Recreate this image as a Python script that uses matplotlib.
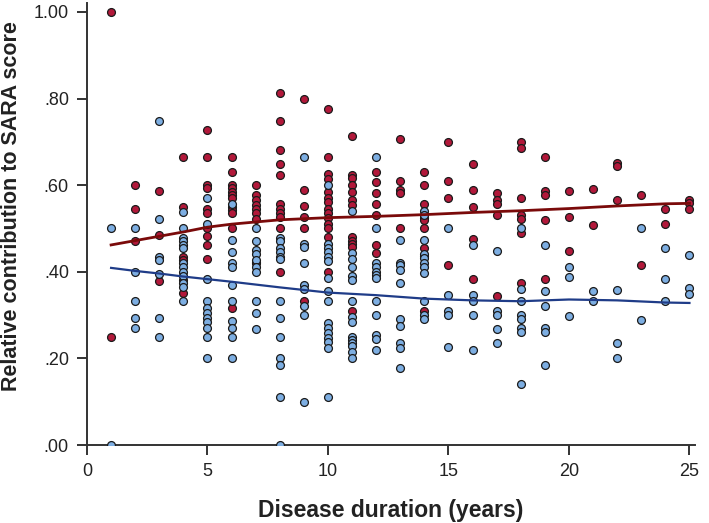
import matplotlib
matplotlib.use("Agg")
import matplotlib.pyplot as plt
import numpy as np

plt.rcParams['font.family'] = ['Liberation Sans', 'DejaVu Sans']

years = list(range(1, 26))

red_values = [
    [1.00, 0.25],
    [0.60, 0.545, 0.471],
    [0.587, 0.484, 0.379],
    [0.666, 0.549, 0.435, 0.428, 0.38, 0.352],
    [0.727, 0.666, 0.600, 0.593, 0.545, 0.535, 0.50, 0.483, 0.462, 0.43],
    [0.666, 0.631, 0.60, 0.593, 0.585, 0.578, 0.57, 0.55, 0.543, 0.535, 0.50, 0.316],
    [0.60, 0.578, 0.565, 0.555, 0.545, 0.535, 0.521, 0.423, 0.42],
    [0.814, 0.749, 0.681, 0.649, 0.624, 0.557, 0.545, 0.535, 0.527, 0.50, 0.40],
    [0.799, 0.589, 0.552, 0.527, 0.50, 0.333],
    [0.777, 0.666, 0.625, 0.615, 0.585, 0.57, 0.56, 0.545, 0.535, 0.525, 0.51, 0.50, 0.48, 0.40],
    [0.714, 0.624, 0.616, 0.60, 0.585, 0.565, 0.555, 0.48, 0.472, 0.465, 0.458, 0.31],
    [0.631, 0.607, 0.581, 0.556, 0.531, 0.462, 0.444],
    [0.706, 0.61, 0.589, 0.581, 0.50],
    [0.631, 0.60, 0.556, 0.525, 0.52, 0.50, 0.454, 0.437, 0.31],
    [0.699, 0.61, 0.57, 0.416],
    [0.648, 0.588, 0.549, 0.476, 0.383],
    [0.581, 0.566, 0.557, 0.531, 0.345],
    [0.699, 0.685, 0.571, 0.531, 0.523, 0.49, 0.375],
    [0.666, 0.587, 0.578, 0.519, 0.383],
    [0.587, 0.526, 0.449],
    [0.592, 0.508],
    [0.652, 0.645, 0.565],
    [0.577, 0.416],
    [0.545, 0.51],
    [0.566, 0.558, 0.545],
]

blue_values = [
    [0.50, 0.0],
    [0.50, 0.40, 0.333, 0.294, 0.271],
    [0.749, 0.523, 0.433, 0.427, 0.395, 0.294, 0.249],
    [0.539, 0.50, 0.478, 0.47, 0.463, 0.455, 0.42, 0.41, 0.40, 0.39, 0.375, 0.366, 0.333],
    [0.57, 0.51, 0.384, 0.333, 0.317, 0.304, 0.294, 0.284, 0.271, 0.249, 0.20],
    [0.557, 0.474, 0.445, 0.42, 0.41, 0.37, 0.333, 0.286, 0.271, 0.249, 0.20],
    [0.50, 0.47, 0.45, 0.44, 0.427, 0.41, 0.40, 0.333, 0.305, 0.267],
    [0.478, 0.47, 0.455, 0.445, 0.435, 0.43, 0.333, 0.294, 0.249, 0.20, 0.185, 0.111, 0.0],
    [0.666, 0.465, 0.458, 0.42, 0.37, 0.36, 0.32, 0.30, 0.099],
    [0.60, 0.465, 0.455, 0.445, 0.435, 0.425, 0.385, 0.355, 0.333, 0.281, 0.27, 0.258, 0.246, 0.239, 0.223, 0.111],
    [0.54, 0.444, 0.43, 0.41, 0.39, 0.38, 0.333, 0.295, 0.285, 0.25, 0.243, 0.235, 0.228, 0.215, 0.20],
    [0.666, 0.50, 0.42, 0.412, 0.40, 0.393, 0.385, 0.333, 0.30, 0.254, 0.244, 0.22],
    [0.474, 0.42, 0.415, 0.405, 0.375, 0.292, 0.275, 0.236, 0.223, 0.177],
    [0.54, 0.53, 0.474, 0.44, 0.431, 0.42, 0.41, 0.397, 0.333, 0.30, 0.29],
    [0.50, 0.346, 0.31, 0.30, 0.226],
    [0.462, 0.346, 0.333, 0.30, 0.22],
    [0.448, 0.31, 0.30, 0.267, 0.236],
    [0.50, 0.36, 0.333, 0.30, 0.29, 0.27, 0.26, 0.142],
    [0.462, 0.356, 0.32, 0.27, 0.262, 0.185],
    [0.412, 0.388, 0.298],
    [0.356, 0.333],
    [0.358, 0.235, 0.20],
    [0.50, 0.289],
    [0.454, 0.384, 0.333],
    [0.438, 0.363, 0.348],
]

# Smoothed fit curves
fit_x = [1, 2, 3, 4, 5, 6, 8, 10, 12, 14, 16, 18, 20, 22, 24, 25]
red_fit = [0.462, 0.472, 0.482, 0.492, 0.503, 0.510, 0.520, 0.525, 0.528, 0.532, 0.537, 0.541, 0.546, 0.552, 0.557, 0.558]
blue_fit = [0.409, 0.402, 0.396, 0.389, 0.383, 0.377, 0.364, 0.352, 0.346, 0.338, 0.334, 0.332, 0.336, 0.334, 0.329, 0.328]

x_ticks = [0, 5, 10, 15, 20, 25]
y_ticks = [0.0, 0.2, 0.4, 0.6, 0.8, 1.0]
y_tick_labels = ['.00', '.20', '.40', '.60', '.80', '1.00']

red_x = np.concatenate([[yr] * len(v) for yr, v in zip(years, red_values)])
red_y = np.concatenate(red_values)
blue_x = np.concatenate([[yr] * len(v) for yr, v in zip(years, blue_values)])
blue_y = np.concatenate(blue_values)

fig = plt.figure(figsize=(7.09, 5.23), dpi=100)
ax = fig.add_axes([87 / 709, 78 / 523, 608 / 709, 441.7 / 523])

red_fc = '#B2183A'
blue_fc = '#7DAEE2'
ax.scatter(red_x, red_y, s=32, c=red_fc, edgecolors='#1a1a1a', linewidths=0.9, zorder=3)
ax.scatter(blue_x, blue_y, s=32, c=blue_fc, edgecolors='#1a1a1a', linewidths=0.9, zorder=3)

ax.plot(fit_x, red_fit, color='#7A0A0A', lw=2.0, zorder=5)
ax.plot(fit_x, blue_fit, color='#1F3C88', lw=1.6, zorder=5)

ax.set_xlim(0, 25.23)
ax.set_ylim(0, 1.02)
ax.set_xticks(x_ticks)
ax.set_yticks(y_ticks)
ax.set_yticklabels(y_tick_labels)

for s in ['top', 'right']:
    ax.spines[s].set_visible(False)
for s in ['left', 'bottom']:
    ax.spines[s].set_linewidth(1.4)
    ax.spines[s].set_color('#333333')

ax.tick_params(axis='both', direction='out', length=7, width=1.4, color='#333333',
               labelsize=13, labelcolor='#222222', pad=6)

ax.set_xlabel('Disease duration (years)', fontsize=16.5, fontweight='bold', labelpad=14, color='#222222')
ax.set_ylabel('Relative contribution to SARA score', fontsize=15.5, fontweight='bold', color='#222222')
ax.yaxis.set_label_coords(-0.107, 0.54)

fig.savefig('out.png', dpi=100)
